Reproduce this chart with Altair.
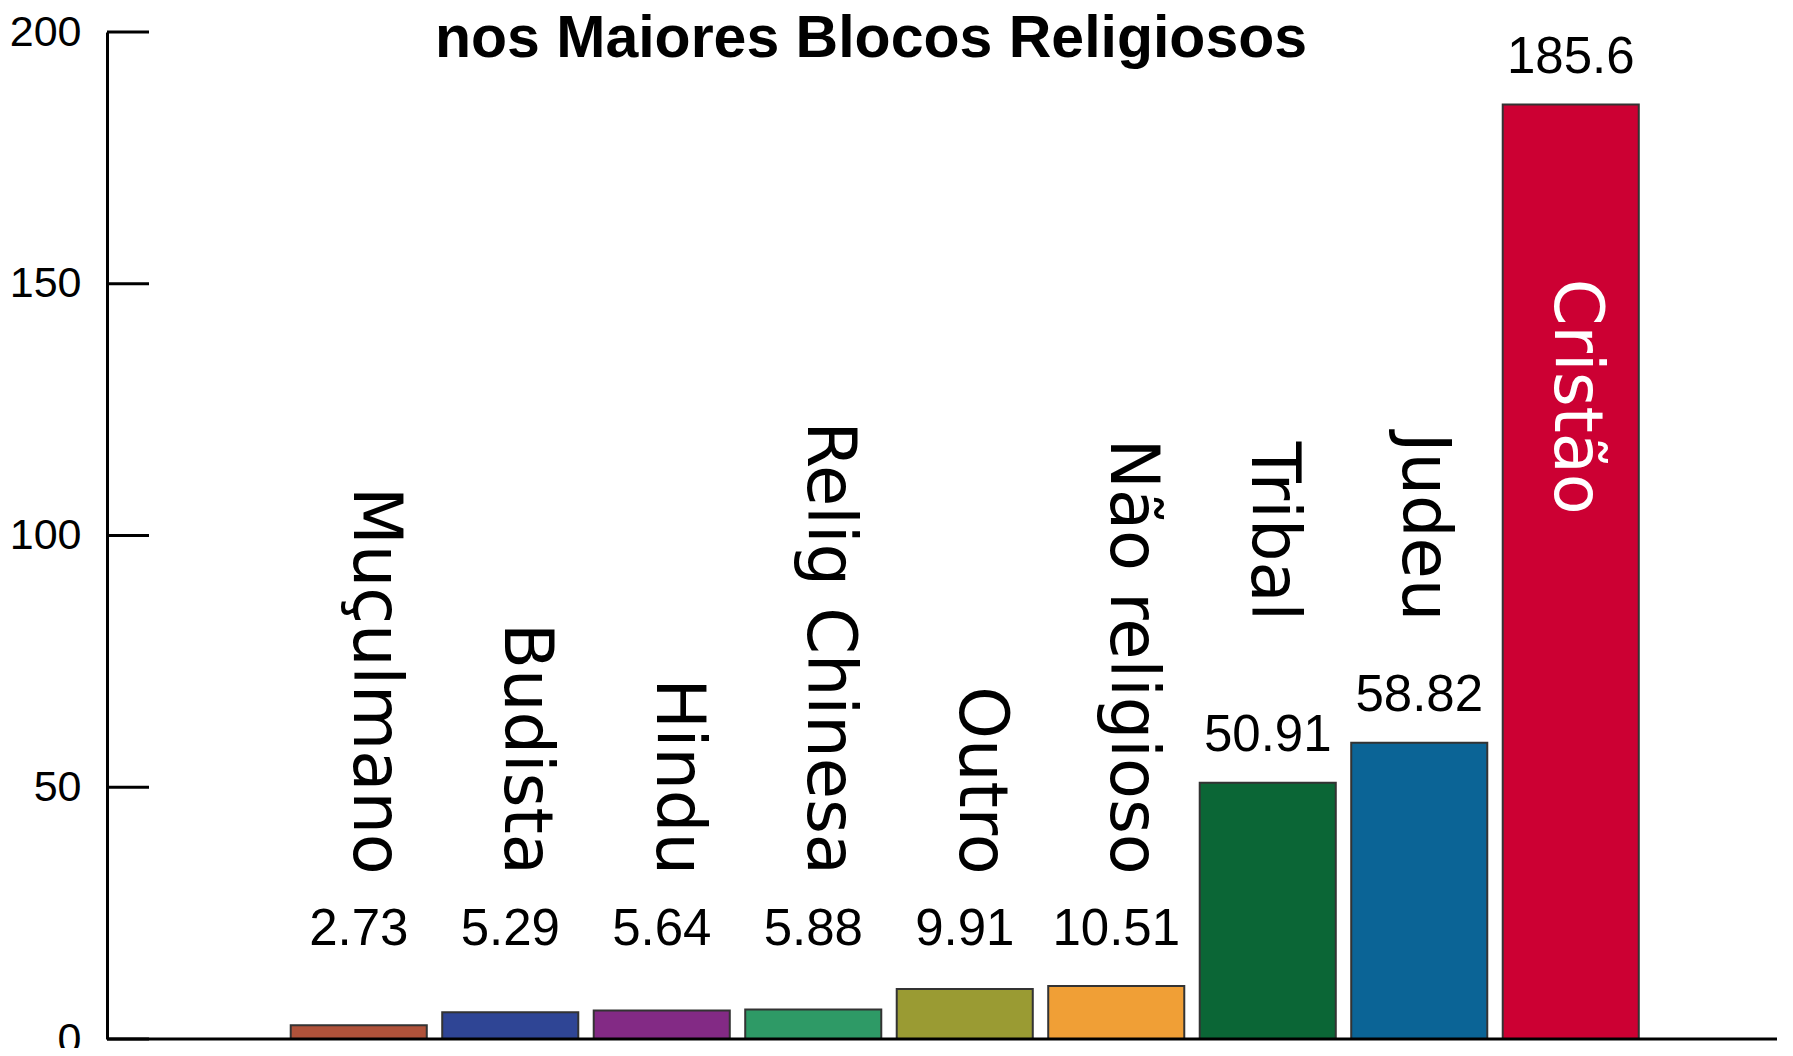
import altair as alt
import pandas as pd

categories = ["Muçulmano", "Budista", "Hindu", "Relig Chinesa", "Outro",
              "Não religioso", "Tribal", "Judeu", "Cristão"]
values = [2.73, 5.29, 5.64, 5.88, 9.91, 10.51, 50.91, 58.82, 185.6]
colors = ["#AF523A", "#2F4595", "#832A85", "#2E9A66", "#9A9B33",
          "#F09F36", "#0B6636", "#0B6496", "#CC0033"]
y_ticks = [0, 50, 100, 150, 200]
title_text = "nos Maiores Blocos Religiosos"

SANS = "Liberation Sans"

df = pd.DataFrame({"categoria": categories, "valor": values, "cor": colors})
ticks_df = pd.DataFrame({"t": y_ticks})
title_df = pd.DataFrame({"t": [title_text]})

W, H = 1670, 1007

yscale = alt.Scale(domain=[0, 200], nice=False, zero=True)
xscale = alt.Scale(domain=categories, paddingInner=0.102, paddingOuter=0.051,
                   range=[176, 1539.5])

base = alt.Chart(df).encode(
    x=alt.X("categoria:N", scale=xscale, sort=categories,
            axis=alt.Axis(labels=False, ticks=False, title=None, domain=False, grid=False))
)

bars = base.mark_bar(stroke="#333333", strokeWidth=2).encode(
    y=alt.Y("valor:Q", scale=yscale,
            axis=alt.Axis(values=y_ticks, ticks=False, tickSize=0, labelFont=SANS,
                          labelFontSize=43, labelPadding=26, labelColor="black",
                          domainColor="black", domainWidth=3, grid=False, title=None)),
    color=alt.Color("cor:N", scale=None),
)

vals = base.transform_calculate(
    ly="max(datum.valor, 12.4)", txt="'' + datum.valor"
).mark_text(font=SANS, fontSize=51, dy=-32, baseline="alphabetic",
            align="center", color="black").encode(
    y=alt.Y("ly:Q", scale=yscale), text="txt:N"
)

cat_base = base.transform_calculate(
    cy="datum.valor < 20 ? 32.6 : (datum.valor < 100 ? 83 : 104.1)",
    cc="datum.valor >= 100 ? 'white' : 'black'"
)

cats_small = cat_base.transform_filter("datum.valor < 20").mark_text(
    font="DejaVu Sans", fontSize=67, angle=90, align="right", baseline="middle", dy=-15
).encode(y=alt.Y("cy:Q", scale=yscale), text="categoria:N",
         color=alt.Color("cc:N", scale=None))

cats_big = cat_base.transform_filter("datum.valor >= 20").mark_text(
    font="DejaVu Sans", fontSize=67, angle=90, align="right", baseline="middle", dy=-4
).encode(y=alt.Y("cy:Q", scale=yscale), text="categoria:N",
         color=alt.Color("cc:N", scale=None))

tick_rules = alt.Chart(ticks_df).mark_rule(color="black", strokeWidth=3).encode(
    y=alt.Y("t:Q", scale=yscale), x=alt.value(0), x2=alt.value(42)
)

xaxis_line = alt.Chart(ticks_df).transform_filter("datum.t == 0").mark_rule(
    color="black", strokeWidth=3
).encode(y=alt.Y("t:Q", scale=yscale), x=alt.value(0), x2=alt.value(W))

title = alt.Chart(title_df).mark_text(
    font=SANS, fontWeight="bold", fontSize=59, align="center",
    baseline="alphabetic", color="black"
).encode(text="t:N", x=alt.value(764), y=alt.value(25))

chart = alt.layer(bars, vals, cats_small, cats_big, tick_rules, xaxis_line, title).properties(
    width=W, height=H,
    background="white",
    autosize=alt.AutoSizeParams(type="none"),
    padding={"left": 99, "top": 24, "right": 0, "bottom": 9},
).configure_view(strokeWidth=0, stroke="transparent")

chart.save("out.html", embed_options={"renderer": "svg", "actions": False})
